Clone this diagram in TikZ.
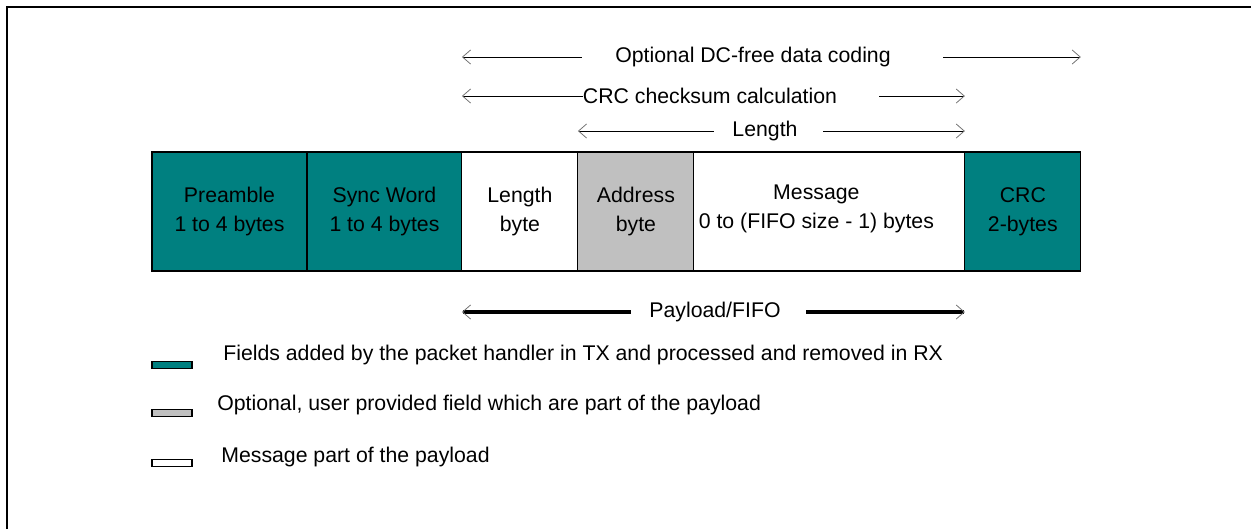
\documentclass[tikz,border=0pt]{standalone}
\usepackage{fontspec}
\setmainfont{Liberation Sans}
\usetikzlibrary{arrows.meta,positioning}
\definecolor{pktteal}{RGB}{0,128,128}
\definecolor{pktgray}{RGB}{192,192,192}

\begin{document}
\begin{tikzpicture}[x=0.02cm, y=-0.02cm,
  field/.style={draw, line width=0.6pt, rectangle, minimum height=2.38cm,
                font=\fontsize{12.1}{16.5}\selectfont,
                align=center, inner sep=2pt, outer sep=0pt},
  lbl/.style={font=\fontsize{12.1}{14}\selectfont, inner sep=0pt},
  dim/.style={{Straight Barb[length=0.16cm,width=0.28cm,line width=0.45pt,color=black!55]}-,
              line width=0.5pt},
  swatch/.style={draw, line width=0.6pt, minimum width=0.8cm, minimum height=0.14cm,
                 inner sep=0pt, outer sep=0pt}
]
\useasboundingbox (0,0) rectangle (1251,529);
\draw[line width=1.4pt] (7,529) -- (7,7) -- (1251,7);

% packet fields
\node[field, fill=pktteal, minimum width=3.1cm, anchor=north west] (pre) at (152,152) {Preamble\\1 to 4 bytes};
\node[field, fill=pktteal, minimum width=3.1cm, right=0pt of pre]   (sync) {Sync Word\\1 to 4 bytes};
\node[field, fill=white, minimum width=2.32cm, right=0pt of sync]   (len)  {Length\\byte};
\node[field, fill=pktgray, minimum width=2.32cm, right=0pt of len]  (addr) {Address\\byte};
\node[field, fill=white, minimum width=5.42cm, right=0pt of addr]   (msg)
  {Message\hspace*{0.52cm}\\0 to (FIFO size - 1) bytes\hspace*{0.52cm}\rule[-0.2cm]{0pt}{0.2cm}};
\node[field, fill=pktteal, minimum width=2.32cm, right=0pt of msg]  (crc)  {CRC\\2-bytes};

% spans
\node[lbl] (dc)     at (753,57)  {Optional DC-free data coding};
\node[lbl] (crcsum) at (710,96)  {CRC checksum calculation};
\node[lbl] (lenlbl) at (765,131) {Length};
\node[lbl] (pay)    at (715,312) {Payload/FIFO};
\coordinate (dcL)  at (len.west |- dc);
\coordinate (dcR)  at (crc.east |- dc);
\coordinate (csL)  at (len.west |- crcsum);
\coordinate (csR)  at (crc.west |- crcsum);
\coordinate (lnL)  at (addr.west |- lenlbl);
\coordinate (lnR)  at (crc.west |- lenlbl);
\coordinate (pyL)  at (len.west |- pay);
\coordinate (pyR)  at (crc.west |- pay);
\draw[dim, shorten >=0.66cm] (dcL) -- (dc);
\draw[dim, shorten >=1.04cm] (dcR) -- (dc);
\draw[dim] (csL) -- (crcsum);
\draw[dim, shorten >=0.84cm] (csR) -- (crcsum);
\draw[dim, shorten >=0.36cm] (lnL) -- (lenlbl);
\draw[dim, shorten >=0.5cm]  (lnR) -- (lenlbl);
\draw[dim, line width=2.3pt, shorten >=0.36cm] (pyL) -- (pay);
\draw[dim, line width=2.3pt, shorten >=0.5cm]  (pyR) -- (pay);

% legend
\node[swatch, fill=pktteal] (keyA) at (172,365) {};
\node[swatch, fill=pktgray] (keyB) at (172,413) {};
\node[swatch, fill=white]   (keyC) at (172,463) {};
\node[lbl, anchor=west, right=0.62cm of keyA, yshift=0.2cm]  (keyAtxt) {Fields added by the packet handler in TX and processed and removed in RX};
\node[lbl, anchor=west, right=0.5cm of keyB, yshift=0.16cm]  (keyBtxt) {Optional, user provided field which are part of the payload};
\node[lbl, anchor=west, right=0.58cm of keyC, yshift=0.12cm] (keyCtxt) {Message part of the payload};
\end{tikzpicture}
\end{document}
